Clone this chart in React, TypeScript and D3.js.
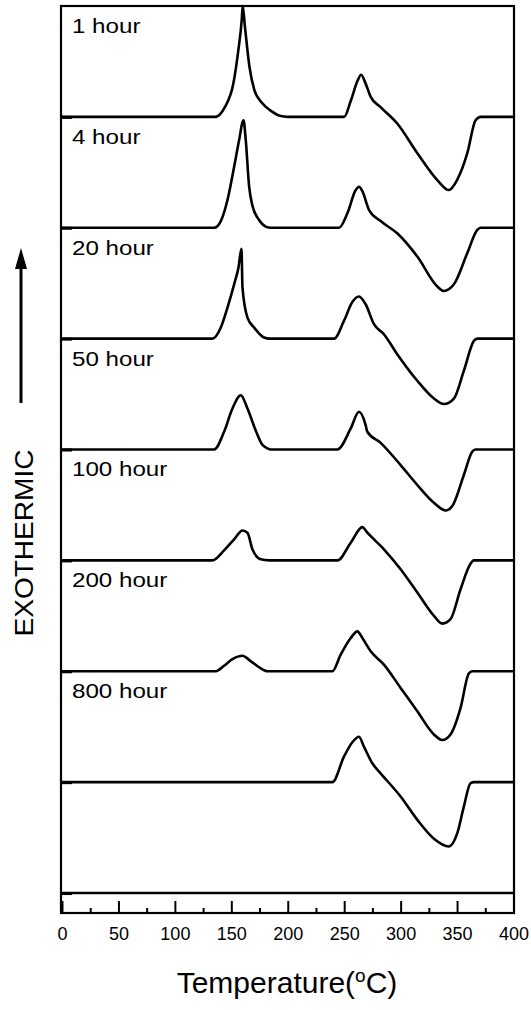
import { useEffect, useRef } from 'react';
import * as d3 from 'd3';

// DSC traces: [temperature °C, heat flow in units of curve spacing]
const hourLabels = ['1 hour', '4 hour', '20 hour', '50 hour', '100 hour', '200 hour', '800 hour'];
const xTicks = [0, 50, 100, 150, 200, 250, 300, 350, 400];
const xMinorTicks = [25, 75, 125, 175, 225, 275, 325, 375];

const h1: [number, number][] = [
  [0, 0], [135.6, 0], [144.4, 0.09], [151.8, 0.3], [156.2, 0.6], [159.2, 0.87], [160.1, 1.0], [162.1, 0.81],
  [166.1, 0.45], [170.5, 0.24], [176.9, 0.13], [185.8, 0.05], [193, 0.01], [200, 0], [250, 0], [256, 0.15],
  [262, 0.33], [265, 0.38], [269, 0.3], [273.5, 0.18], [282, 0.09], [297, -0.06], [315, -0.33], [332.5, -0.57],
  [342.7, -0.66], [350, -0.57], [359, -0.33], [366.4, -0.03], [371, 0], [400, 0],
];
const h4: [number, number][] = [
  [0, 0], [134.8, 0], [140.7, 0.06], [146.6, 0.25], [152.5, 0.55], [156.9, 0.79], [160.8, 0.97], [162.8, 0.79],
  [165.8, 0.37], [168.7, 0.2], [174.6, 0.07], [180.5, 0.01], [185, 0], [245.4, 0], [252.8, 0.13], [260.2, 0.34],
  [263.1, 0.37], [266.1, 0.33], [272, 0.16], [282.3, 0.06], [297, -0.05], [314.8, -0.26], [332.5, -0.53],
  [338.3, -0.57], [347.2, -0.51], [359, -0.23], [367.9, -0.02], [370.8, 0], [400, 0],
];
const h20: [number, number][] = [
  [0, 0], [133.3, 0], [140.7, 0.1], [146.6, 0.28], [152.5, 0.49], [156.3, 0.64], [159, 0.81], [159.9, 0.46],
  [164.3, 0.19], [170.2, 0.1], [179, 0.01], [184, 0], [241, 0], [249.8, 0.16], [257.2, 0.33], [263.1, 0.38],
  [269, 0.31], [276.4, 0.13], [285.2, 0.04], [297, -0.14], [314.8, -0.38], [329.5, -0.54], [338.3, -0.59],
  [347.2, -0.54], [356, -0.29], [364.9, -0.02], [367.9, 0], [400, 0],
];
const h50: [number, number][] = [
  [0, 0], [134.8, 0], [143.6, 0.16], [151, 0.37], [158.4, 0.49], [164.3, 0.37], [171.7, 0.17], [177, 0.05],
  [182, 0.01], [185, 0], [244, 0], [255.8, 0.19], [263.1, 0.34], [269, 0.22], [270.5, 0.16], [282.3, 0.06],
  [300, -0.14], [314.8, -0.32], [329.5, -0.48], [339.8, -0.55], [345.8, -0.51], [356, -0.23], [363.4, -0.02],
  [366.4, 0], [400, 0],
];
const h100: [number, number][] = [
  [0, 0], [133.3, 0], [143.6, 0.09], [152.5, 0.19], [159.9, 0.27], [164.3, 0.25], [168.7, 0.1], [176.1, 0.01],
  [183.5, 0], [244, 0], [255.8, 0.16], [266.1, 0.3], [270.5, 0.25], [285.2, 0.1], [300, -0.08], [314.8, -0.29],
  [329.5, -0.5], [336.9, -0.57], [344.2, -0.53], [353.1, -0.26], [361.9, -0.03], [364.9, 0], [400, 0],
];
const h200: [number, number][] = [
  [0, 0], [136.3, 0], [143.6, 0.05], [151, 0.11], [159.9, 0.14], [167.3, 0.09], [179, 0.01], [182, 0],
  [239.5, 0], [246.9, 0.15], [255.8, 0.3], [261.7, 0.36], [266.1, 0.3], [273.5, 0.18], [285.2, 0.06],
  [300, -0.15], [314.8, -0.36], [329.5, -0.57], [336.9, -0.62], [344.2, -0.57], [353.1, -0.33], [360.4, -0.02],
  [363.4, 0], [400, 0],
];
const h800: [number, number][] = [
  [0, 0], [239.5, 0], [249.8, 0.23], [257.2, 0.36], [263.1, 0.41], [267.5, 0.32], [274.9, 0.17], [282.3, 0.08],
  [300, -0.13], [314.8, -0.34], [329.5, -0.51], [342.7, -0.58], [350.2, -0.46], [356, -0.22], [361.9, -0.01],
  [364.9, 0], [400, 0],
];
const blank: [number, number][] = [[0, 0], [400, 0]];

const curves = [h1, h4, h20, h50, h100, h200, h800, blank];

const App = () => {
  const ref = useRef<SVGSVGElement>(null);

  useEffect(() => {
    const svg = d3.select(ref.current);
    svg.selectAll('*').remove();
    const font = '"Liberation Sans", Arial, sans-serif';

    const x = d3.scaleLinear().domain([0, 400]).range([62, 513.5]);
    const y = d3.scaleLinear().domain([-0.18, 8]).range([913, 6]);
    const n = curves.length;
    const offsetOf = (i: number) => n - 1 - i;

    // frame
    svg.append('rect')
      .attr('x', 61).attr('y', 6).attr('width', 453).attr('height', 907)
      .attr('fill', 'none').attr('stroke', '#000').attr('stroke-width', 2.2);

    // x axis, ticks pointing inward
    const xAxisG = svg.append('g').attr('transform', 'translate(0,913)')
      .call(d3.axisBottom(x).tickValues(xTicks).tickSizeInner(-12).tickSizeOuter(0).tickPadding(14));
    xAxisG.select('.domain').remove();
    xAxisG.selectAll('.tick line').attr('stroke-width', 2);
    xAxisG.selectAll('.tick text').style('font-family', font).style('font-size', '18px').attr('fill', '#000');

    const minorG = svg.append('g').attr('transform', 'translate(0,913)')
      .call(d3.axisBottom(x).tickValues(xMinorTicks).tickSizeInner(-5).tickSizeOuter(0).tickFormat(() => ''));
    minorG.select('.domain').remove();
    minorG.selectAll('.tick line').attr('stroke-width', 2);

    // y ticks at each curve baseline
    const yAxisG = svg.append('g').attr('transform', 'translate(61,0)')
      .call(d3.axisLeft(y).tickValues(d3.range(n)).tickSizeInner(-11).tickSizeOuter(0).tickFormat(() => ''));
    yAxisG.select('.domain').remove();
    yAxisG.selectAll('.tick line').attr('stroke-width', 3);

    // traces
    const line = d3.line<[number, number]>().curve(d3.curveMonotoneX);
    curves.forEach((c, i) => {
      const off = offsetOf(i);
      line.x(d => x(d[0])).y(d => y(d[1] + off));
      svg.append('path')
        .attr('d', line(c) as string)
        .attr('fill', 'none').attr('stroke', '#000').attr('stroke-width', 2.6)
        .attr('stroke-linejoin', 'round');
    });

    // curve labels
    hourLabels.forEach((lab, i) => {
      svg.append('text').text(lab)
        .attr('transform', `translate(72,${y(offsetOf(i)) - 84}) scale(1.15,1)`)
        .style('font-family', font).style('font-size', '21px').attr('fill', '#000');
    });

    // x title
    const title = svg.append('text')
      .attr('x', 287).attr('y', 993).attr('text-anchor', 'middle')
      .style('font-family', font).style('font-size', '30px').attr('fill', '#000');
    title.append('tspan').text('Temperature(');
    title.append('tspan').text('o').attr('dy', -11).style('font-size', '19px');
    title.append('tspan').text('C)').attr('dy', 11);

    // y label and arrow
    svg.append('text').text('EXOTHERMIC')
      .attr('transform', 'translate(33,543) rotate(-90)')
      .attr('text-anchor', 'middle').attr('textLength', 187).attr('lengthAdjust', 'spacingAndGlyphs')
      .style('font-family', font).style('font-size', '25px').attr('fill', '#000');
    svg.append('line')
      .attr('x1', 21).attr('x2', 21).attr('y1', 403).attr('y2', 265)
      .attr('stroke', '#000').attr('stroke-width', 3);
    svg.append('path')
      .attr('d', 'M21,248 L15,269 L27,269 Z').attr('fill', '#000');
  }, []);

  return (
    <svg ref={ref} width={531} height={1010}
      style={{ position: 'absolute', left: 0, top: 0, background: '#fff' }} />
  );
};

export default App;
